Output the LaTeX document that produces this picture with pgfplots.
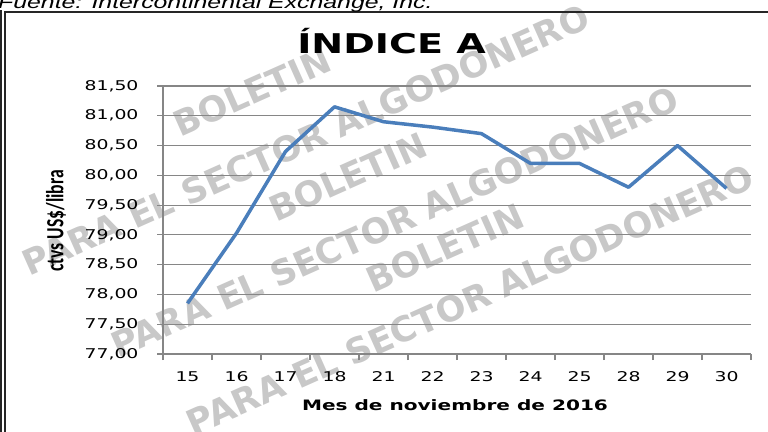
\documentclass[border=0pt]{standalone}
\usepackage{pgfplots}
\pgfplotsset{compat=1.18}
\usepackage{fontspec}
\setmainfont{DejaVu Sans}
\newfontfamily\wfont[FakeStretch=1.4]{DejaVu Sans}
\newfontfamily\fuente[FakeStretch=1.4]{Liberation Sans}
\newfontfamily\calfont{Carlito}
\definecolor{lineblue}{HTML}{4A7EBB}
\definecolor{gridgray}{HTML}{868686}
\definecolor{wm}{HTML}{C8C8C8}
\begin{document}
\begin{tikzpicture}[x=1bp,y=1bp]
\path[use as bounding box] (0,0) rectangle (768,431);
% watermark
\begin{scope}[every node/.style={text=wm, font=\bfseries\fontsize{35}{35}\selectfont, rotate=24, inner sep=0}]
\node at (306,291) {PARA EL SECTOR ALGODONERO};
\node at (395,209) {PARA EL SECTOR ALGODONERO};
\node at (470,131) {PARA EL SECTOR ALGODONERO};
\node at (252,339) {BOLETIN};
\node at (348,254) {BOLETIN};
\node at (445,183) {BOLETIN};
\end{scope}
% frame
\draw[line width=1.3bp,black!85] (5,-5) -- (5,419) -- (775,419);
\draw[line width=1.3bp,black!85] (1,-5) -- (1,421);
% source
\node[font=\fuente\itshape\fontsize{17.8}{18}\selectfont, anchor=base west, inner sep=0] at (-2,422) {Fuente: Intercontinental Exchange, Inc.};
% title
\node[font=\wfont\bfseries\fontsize{27.3}{28}\selectfont, anchor=base, inner sep=0] at (391.5,378) {ÍNDICE A};
% x label
\node[font=\wfont\bfseries\fontsize{14.4}{15}\selectfont, anchor=base, inner sep=0] at (455,21) {Mes de noviembre de 2016};
% y label
\node[rotate=90, inner sep=0] at (56,210) {\scalebox{1}[1.4]{\calfont\bfseries\fontsize{17.7}{18}\selectfont ctvs US\$/libra}};
\begin{axis}[
  at={(163bp,77bp)}, anchor=south west,
  width=588bp, height=268bp, scale only axis,
  xmin=0, xmax=12, ymin=77, ymax=81.5,
  axis x line*=bottom, axis y line*=left,
  axis line style={gridgray, line width=1.2bp, -},
  xtick={0,1,...,12},
  x tick label as interval,
  xticklabels={15,16,17,18,21,22,23,24,25,28,29,30},
  ytick={77,77.5,...,81.5},
  tick align=outside,
  major tick length=6bp,
  tick style={gridgray, line width=1.2bp},
  ymajorgrids,
  major grid style={gridgray, line width=1.2bp},
  yticklabel style={font=\wfont\fontsize{13.5}{14}\selectfont, xshift=-15bp, /pgf/number format/.cd, fixed, fixed zerofill, precision=2, use comma, assume math mode=true},
  xticklabel style={font=\wfont\fontsize{13.5}{14}\selectfont, yshift=-8bp},
  /pgf/number format/assume math mode=true,
]
\addplot[lineblue, line width=3.5bp, line join=round] coordinates {
(0.5,77.85) (1.5,79.03) (2.5,80.4) (3.5,81.15) (4.5,80.9) (5.5,80.81)
(6.5,80.7) (7.5,80.2) (8.5,80.2) (9.5,79.8) (10.5,80.5) (11.5,79.78)};
\end{axis}
\end{tikzpicture}
\end{document}
